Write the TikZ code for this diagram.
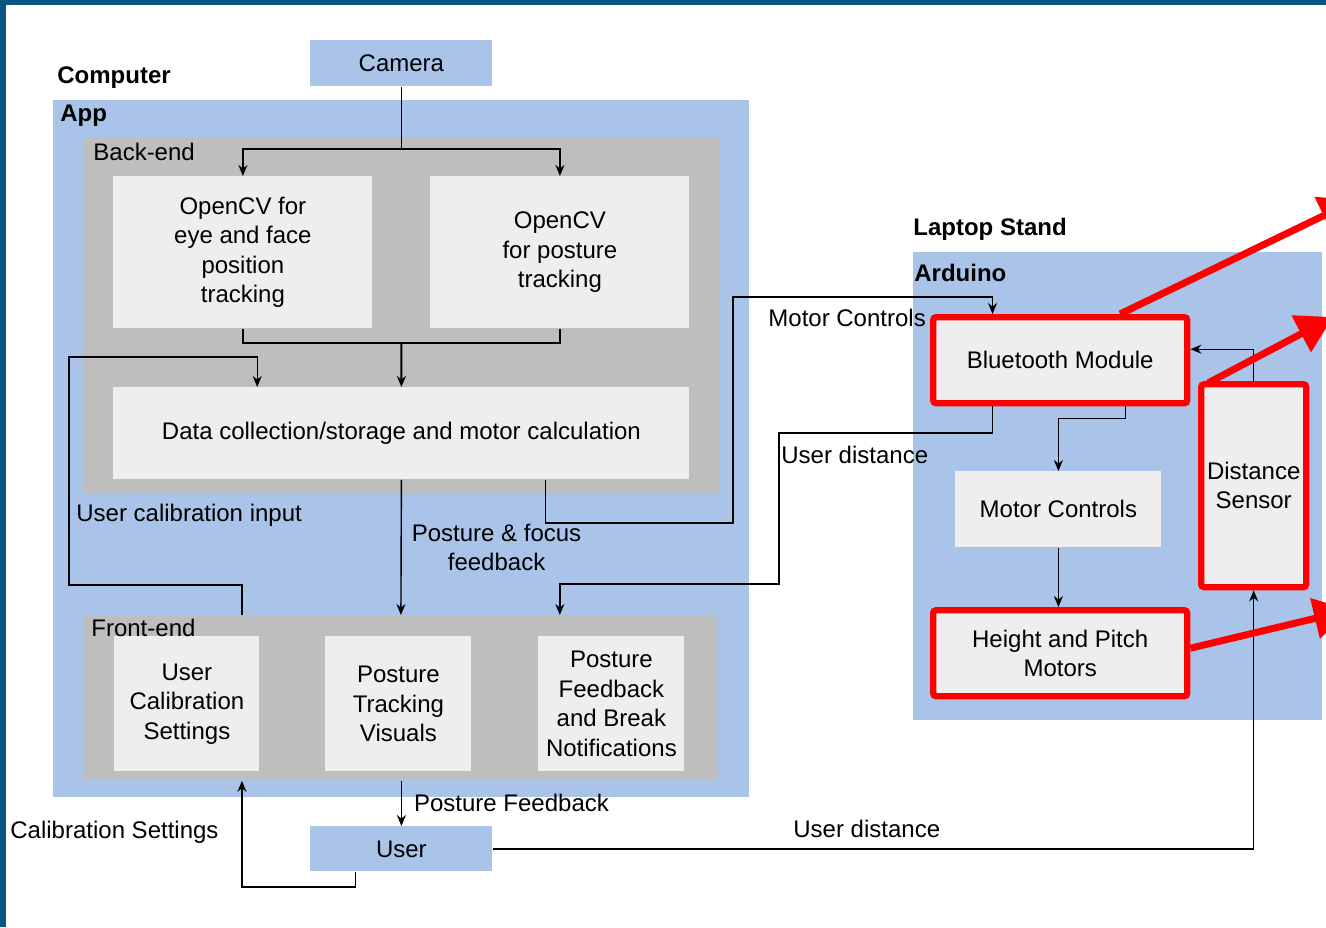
\documentclass[tikz,border=0pt]{standalone}
\usepackage{fontspec}
\setmainfont{Liberation Sans}
\usepackage{xcolor}
\usetikzlibrary{arrows.meta, positioning, calc}

\definecolor{appblue}{RGB}{169,196,232}
\definecolor{groupgrey}{RGB}{190,190,190}
\definecolor{boxgrey}{RGB}{238,238,238}
\definecolor{hlred}{RGB}{255,0,0}
\definecolor{slide}{RGB}{10,84,130}

\begin{document}
\begin{tikzpicture}[
    x=0.5pt, y=-0.5pt,
    txt/.style={font=\fontsize{12}{14.7}\selectfont},
    container/.style={rectangle, fill=appblue, anchor=north west, inner sep=0pt},
    group/.style={rectangle, fill=groupgrey, anchor=north west, inner sep=0pt},
    box/.style={rectangle, fill=boxgrey, anchor=north west, align=center,
                inner sep=2pt, txt},
    bluebox/.style={box, fill=appblue},
    hl/.style={draw=hlred, line width=3.2pt, rounded corners=1.5pt},
    lbl/.style={anchor=west, inner sep=0pt, txt},
    head/.style={lbl, font=\fontsize{12}{14.7}\selectfont\bfseries},
    arr/.style={-{Stealth[length=5.5pt, width=4.5pt]}, line width=0.7pt},
    redarr/.style={-{Triangle[length=18pt, width=20pt]}, draw=hlred, line width=3.5pt}
]
  \useasboundingbox (0,0) rectangle (1326,927);
  \clip (0,0) rectangle (1326,927);
  \fill[slide] (0,0) rectangle (1326,5);
  \fill[slide] (0,0) rectangle (6,927);

  % computer side
  \node[head] (computer) at (57,78) {Computer};
  \node[bluebox, minimum width=91pt, minimum height=23pt] (camera) at (310,40) {Camera};
  \node[container, minimum width=348pt, minimum height=348.5pt] (app) at (53,100) {};
  \node[head] (applbl) at (60,116) {App};

  \node[group, minimum width=318pt, minimum height=178pt] (backend) at (83,138) {};
  \node[lbl] (backlbl) at (93,152) {Back-end};
  \node[box, minimum width=129.5pt, minimum height=76pt] (cveye)  at (113,176) {OpenCV for\\eye and face\\position\\tracking};
  \node[box, minimum width=129.5pt, minimum height=76pt] (cvpost) at (430,176) {OpenCV\\for posture\\tracking};
  \node[box, minimum width=288pt, minimum height=46pt] (datacalc) at (113,387) {Data collection/storage and motor calculation};

  \node[group, minimum width=317.5pt, minimum height=82.5pt] (frontend) at (83,615) {};
  \node[box, minimum width=72.5pt, minimum height=67.5pt] (calib)   at (114,636) {User\\Calibration\\Settings};
  \node[box, minimum width=73pt, minimum height=67.5pt]   (visuals) at (325,636) {Posture\\Tracking\\Visuals};
  \node[box, minimum width=73pt, minimum height=67.5pt]   (notif)   at (538,636) {Posture\\Feedback\\and Break\\Notifications};
  \node[lbl] (frontlbl) at (91,628) {Front-end};

  \node[bluebox, minimum width=91pt, minimum height=22.5pt] (user) at (310,826) {User};

  % laptop stand side
  \node[head] (standlbl) at (913,229) {Laptop Stand};
  \node[container, minimum width=204.5pt, minimum height=234pt] (arduino) at (913,252) {};
  \node[head] (ardlbl) at (914,273) {Arduino};
  \node[box, hl, minimum width=127pt, minimum height=43pt]    (btmod)    at (930,314)  {Bluetooth Module};
  \node[box, minimum width=103pt, minimum height=38pt]        (motorctl) at (955,471)  {Motor Controls};
  \node[box, hl, minimum width=127pt, minimum height=43pt]    (motors)   at (930,607)  {Height and Pitch\\Motors};
  \node[box, hl, minimum width=52.5pt, minimum height=101.5pt] (dist)    at (1198,381) {Distance\\Sensor};

  \draw[arr] (camera.south) -- ++(0,62) -| (cveye.north);
  \draw[arr] (camera.south) -- ++(0,62) -| (cvpost.north);
  \draw[line width=0.7pt] (cveye.south) -- ++(0,14) -| (cvpost.south);
  \draw[arr, line width=1pt] ($(cveye.south)!0.5!(cvpost.south)+(0,14)$) -- (datacalc.north);

  \draw[arr] ($(frontend.north west)!0.25!(frontend.north east)$) |- (69,585)
             |- ($(datacalc.north west)!0.25!(datacalc.north east)+(0,-30)$)
             -- ($(datacalc.north west)!0.25!(datacalc.north east)$);
  \node[lbl] (calinlbl) at (76,515) {User calibration input};

  \draw[arr] (datacalc.south) -- node[lbl, align=center, xshift=5pt]{Posture \& focus\\feedback} (frontend.north);

  \draw[arr] ($(datacalc.south west)!0.75!(datacalc.south east)$) |- (733,523)
             |- ($(btmod.north west)!0.24!(btmod.north east)+(0,-17)$)
             -- ($(btmod.north west)!0.24!(btmod.north east)$);
  \node[lbl] (mclbl) at (768,318) {Motor Controls};

  \draw[arr] ($(btmod.south west)!0.24!(btmod.south east)$) |- (779,433)
             |- ($(frontend.north west)!0.75!(frontend.north east)+(0,-31)$)
             -- ($(frontend.north west)!0.75!(frontend.north east)$);
  \node[lbl] (udlbl) at (781,455) {User distance};

  \draw[arr] ($(btmod.south west)!0.75!(btmod.south east)$) -- ++(0,12) -| (motorctl.north);
  \draw[arr] (motorctl.south) -- (motorctl.south |- motors.north);
  \draw[arr] (dist.north) |- ($(btmod.east)+(0,-11)$);

  \draw[arr] (frontend.south -| user.north) -- node[lbl, xshift=6pt]{Posture Feedback} (user.north);
  \draw[arr] ($(user.south west)!0.25!(user.south east)$) -- ++(0,15)
             -| ($(frontend.south west)!0.25!(frontend.south east)$);
  \node[lbl] (cslbl) at (10,832) {Calibration Settings};

  \draw[arr] (user.east) -| (dist.south);
  \node[lbl] (ud2lbl) at (793,829) {User distance};

  % highlight arrows running off the page
  \coordinate (offA) at (1356,200);
  \coordinate (offB) at (1333,317);
  \coordinate (offC) at (1350,610);
  \draw[redarr] ($(btmod.north west)!0.73!(btmod.north east)$) -- (offA);
  \draw[redarr] ($(dist.north west)+(10,2)$) -- (offB);
  \draw[redarr] ($(motors.east)+(0,-5)$) -- (offC);
\end{tikzpicture}
\end{document}
